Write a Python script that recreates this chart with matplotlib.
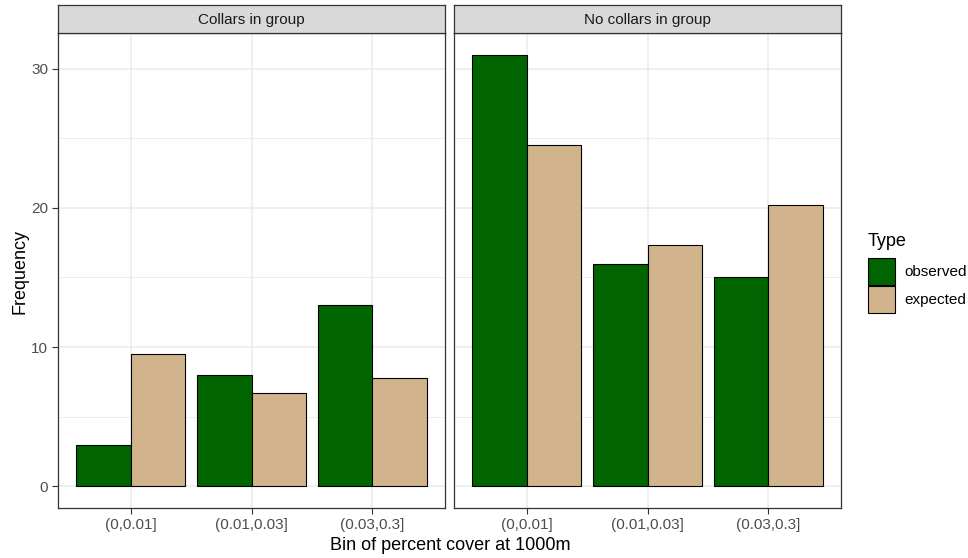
import numpy as np
import matplotlib.pyplot as plt
from matplotlib.patches import Rectangle

plt.rcParams['font.family'] = ['Liberation Sans', 'DejaVu Sans']

# Frequencies per bin of percent cover, split by whether collars were in the group
bins = ["(0,0.01]", "(0.01,0.03]", "(0.03,0.3]"]
panels = ["Collars in group", "No collars in group"]
observed_collars = [3, 8, 13]
expected_collars = [9.5, 6.7, 7.8]
observed_nocollars = [31, 16, 15]
expected_nocollars = [24.5, 17.3, 20.2]
types = ["observed", "expected"]
colors = ["#006400", "#D2B48C"]

data = [
    (observed_collars, expected_collars),
    (observed_nocollars, expected_nocollars),
]

fig = plt.figure(figsize=(9.68, 5.58), dpi=100)
W, H = 968, 558
lefts = [58, 454]
pw = 387
ptop, pbot = 33, 508
strip_top = 4.5

x = np.arange(len(bins))
bw = 0.45
ymax = max(max(observed_nocollars), max(expected_nocollars))
for i, (obs, exp) in enumerate(data):
    ax = fig.add_axes([lefts[i] / W, 1 - pbot / H, pw / W, (pbot - ptop) / H])
    ax.bar(x - bw / 2, obs, width=bw, color=colors[0], edgecolor="black", linewidth=0.8, zorder=3)
    ax.bar(x + bw / 2, exp, width=bw, color=colors[1], edgecolor="black", linewidth=0.8, zorder=3)
    ax.set_xlim(-0.6, 2.6)
    ax.set_ylim(-ymax * 0.05, ymax * 1.05)
    ax.set_xticks(x)
    ax.set_xticklabels(bins)
    ax.set_yticks([0, 10, 20, 30])
    ax.set_yticks([5, 15, 25], minor=True)
    ax.grid(True, which="major", color="#EBEBEB", linewidth=1.1, zorder=0)
    ax.grid(True, which="minor", axis="y", color="#EBEBEB", linewidth=0.6, zorder=0)
    ax.tick_params(which="minor", length=0)
    ax.tick_params(which="major", length=4, width=0.8, color="#333333",
                   labelsize=11, labelcolor="#4D4D4D", pad=3)
    if i == 1:
        ax.tick_params(axis="y", length=0, labelleft=False)
    for s in ax.spines.values():
        s.set_color("#333333")
        s.set_linewidth(0.9)
    ax.set_axisbelow(True)

    # facet strip
    sax = fig.add_axes([lefts[i] / W, 1 - ptop / H, pw / W, (ptop - strip_top) / H])
    sax.set_xticks([])
    sax.set_yticks([])
    sax.set_facecolor("#D9D9D9")
    for s in sax.spines.values():
        s.set_color("#333333")
        s.set_linewidth(0.9)
    sax.text(0.5, 0.47, panels[i], ha="center", va="center", fontsize=11, color="#1A1A1A",
             transform=sax.transAxes)

fig.text((58 + 842) / 2 / W, 1 - 545 / H, "Bin of percent cover at 1000m",
         ha="center", va="center", fontsize=13, color="black")
fig.text(20 / W, 1 - 272 / H, "Frequency", rotation=90, ha="center", va="center",
         fontsize=13, color="black")

# legend drawn by hand: title, square keys, labels
fig.text(868 / W, 1 - 241 / H, "Type", ha="left", va="center", fontsize=13, color="black")
key_tops = [258, 286]
for c, label, top in zip(colors, types, key_tops):
    fig.add_artist(Rectangle((868 / W, 1 - (top + 27) / H), 27 / W, 27 / H,
                             transform=fig.transFigure, facecolor=c,
                             edgecolor="black", linewidth=0.8))
    fig.text(904 / W, 1 - (top + 14) / H, label, ha="left", va="center",
             fontsize=11, color="black")

fig.savefig("out.png", dpi=100, facecolor="white")
